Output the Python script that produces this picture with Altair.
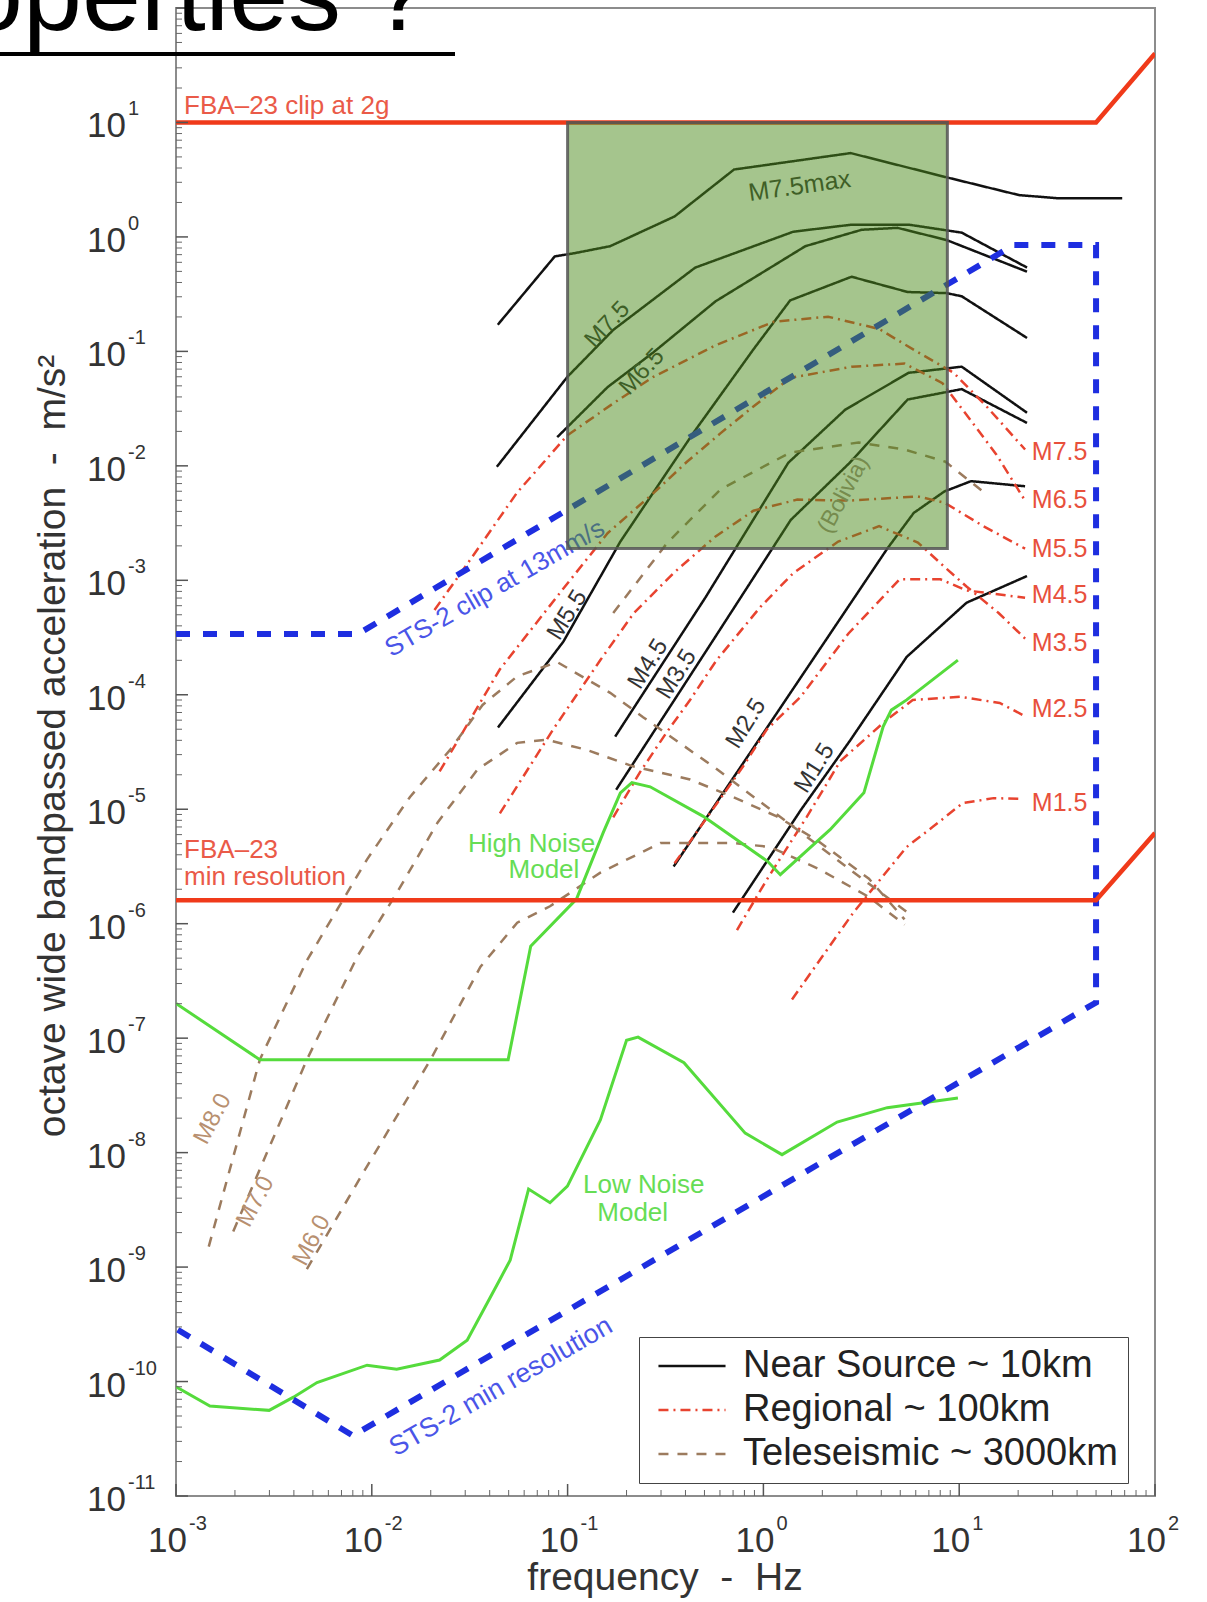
import altair as alt
import pandas as pd

FONT = "Liberation Sans"
W, H = 979, 1488

# ---------------- axis structure ----------------
x_decades = [1e-3, 1e-2, 1e-1, 1e0, 1e1, 1e2]
x_exps = ["-3", "-2", "-1", "0", "1", "2"]
y_decades = [1e2, 1e1, 1e0, 1e-1, 1e-2, 1e-3, 1e-4, 1e-5, 1e-6, 1e-7, 1e-8, 1e-9, 1e-10, 1e-11]
y_label_vals = [1e1, 1e0, 1e-1, 1e-2, 1e-3, 1e-4, 1e-5, 1e-6, 1e-7, 1e-8, 1e-9, 1e-10, 1e-11]
y_exps = ["1", "0", "-1", "-2", "-3", "-4", "-5", "-6", "-7", "-8", "-9", "-10", "-11"]
x_minor = [k * 10.0 ** e for e in range(-3, 2) for k in range(2, 10)]
y_minor = [k * 10.0 ** e for e in range(-11, 2) for k in range(2, 10)]

# ---------------- instrument limits ----------------
fba_clip_f = [0.001, 50, 100]
fba_clip_a = [10, 10, 40]
fba_res_f = [0.001, 50, 100]
fba_res_a = [1.6e-6, 1.6e-6, 6.2e-6]

sts_f = [0.001, 0.0085, 19, 50, 50, 0.008, 0.001]
sts_a = [3.4e-4, 3.4e-4, 0.85, 0.85, 2.05e-7, 3.37e-11, 2.9e-10]

# ---------------- noise models ----------------
nhnm_f = [0.001, 0.00268, 0.0497, 0.0648, 0.111, 0.152, 0.186, 0.213, 0.264, 0.493,
          1.05, 1.22, 2.19, 3.26, 4.09, 4.50, 5.39, 9.85]
nhnm_a = [2.01e-7, 6.49e-8, 6.49e-8, 6.37e-7, 1.64e-6, 6.24e-6, 1.39e-5, 1.71e-5, 1.57e-5, 8.66e-6,
          3.51e-6, 2.68e-6, 6.62e-6, 1.39e-5, 5.28e-5, 7.34e-5, 9.02e-5, 2.01e-4]
nlnm_f = [0.001, 0.00149, 0.00299, 0.00398, 0.00525, 0.00946, 0.0134, 0.0222, 0.0307, 0.0451,
          0.0509, 0.0632, 0.0813, 0.0998, 0.147, 0.200, 0.229, 0.393, 0.807, 1.245, 2.38, 4.29, 9.85]
nlnm_a = [9.0e-11, 6.1e-11, 5.6e-11, 7.3e-11, 9.8e-11, 1.39e-10, 1.28e-10, 1.54e-10, 2.3e-10, 7.8e-10,
          1.15e-9, 4.8e-9, 3.65e-9, 5.1e-9, 1.93e-8, 9.6e-8, 1.02e-7, 6.1e-8, 1.48e-8, 9.6e-9,
          1.85e-8, 2.47e-8, 3.0e-8]

# ---------------- earthquake spectra ----------------
near_source = {
    "M7.5max": ([0.044, 0.086, 0.108, 0.165, 0.352, 0.708, 2.79, 8.3, 20.2, 31.5, 68],
                [0.171, 0.676, 0.72, 0.83, 1.51, 3.88, 5.4, 3.37, 2.32, 2.18, 2.18]),
    "M7.5": ([0.0435, 0.0998, 0.171, 0.448, 1.42, 2.82, 5.52, 10.3, 22.2],
             [0.0098, 0.060, 0.154, 0.539, 1.11, 1.28, 1.28, 1.09, 0.54]),
    "M6.5": ([0.0885, 0.160, 0.274, 0.570, 1.64, 3.18, 4.84, 8.61, 22.2],
             [0.0178, 0.0487, 0.098, 0.274, 0.831, 1.155, 1.20, 0.94, 0.497]),
    "M5.5": ([0.0441, 0.0951, 0.186, 0.438, 0.889, 1.37, 2.82, 5.46, 8.61, 10.3, 22.2],
             [5.18e-5, 2.91e-4, 2.18e-3, 0.0193, 0.104, 0.279, 0.449, 0.330, 0.323, 0.303, 0.131]),
    "M4.5": ([0.175, 0.505, 1.34, 2.62, 5.52, 10.3, 22.2],
             [4.31e-5, 7.05e-4, 0.01064, 0.031, 0.065, 0.0735, 0.0291]),
    "M3.5": ([0.177, 0.556, 1.38, 2.76, 5.46, 10.3, 22.2],
             [1.48e-5, 3.03e-4, 3.37e-3, 0.01064, 0.038, 0.0468, 0.0237]),
    "M2.5": ([0.348, 1.17, 4.29, 5.86, 8.41, 11.5, 21.7],
             [3.16e-6, 6.9e-5, 1.89e-3, 3.88e-3, 5.98e-3, 7.35e-3, 6.63e-3]),
    "M1.5": ([0.699, 1.55, 2.79, 5.39, 10.9, 22.2],
             [1.25e-6, 9.8e-6, 4.05e-5, 2.14e-4, 6.37e-4, 1.09e-3]),
}
regional = {
    "M7.5": ([0.0209, 0.0318, 0.0553, 0.0998, 0.171, 0.274, 0.570, 1.13, 2.14, 3.90, 5.93, 9.37, 13.8, 21.7],
             [5.5e-4, 1.51e-3, 5.86e-3, 0.0185, 0.0351, 0.0599, 0.113, 0.1815, 0.201, 0.157, 0.102, 0.065, 0.033, 0.0139]),
    "M6.5": ([0.0222, 0.0451, 0.0917, 0.160, 0.277, 0.407, 0.605, 0.889, 1.37, 2.82, 5.26, 8.21, 10.8, 15.5, 21.7],
             [2.14e-5, 1.67e-4, 7.82e-4, 2.58e-3, 5.86e-3, 0.01086, 0.0193, 0.033, 0.0586, 0.0735, 0.0782, 0.0528, 0.0285, 0.01253, 4.97e-3]),
    "M5.5": ([0.0451, 0.0843, 0.147, 0.218, 0.352, 0.570, 0.889, 1.49, 2.72, 6.15, 8.41, 13.3, 21.7],
             [9.2e-6, 4.97e-5, 2.01e-4, 5.18e-4, 1.18e-3, 2.42e-3, 4.05e-3, 5.07e-3, 4.97e-3, 5.4e-3, 4.77e-3, 2.97e-3, 1.89e-3]),
    "M4.5": ([0.171, 0.234, 0.320, 0.422, 0.577, 0.966, 1.42, 2.41, 3.90, 6.15, 8.41, 10.9, 15.9, 21.7],
             [8.5e-6, 2.1e-5, 4.68e-5, 9.0e-5, 2.01e-4, 5.86e-4, 1.155e-3, 2.18e-3, 2.97e-3, 2.14e-3, 1.31e-3, 8.83e-4, 5.18e-4, 3.1e-4]),
    "M3.5": ([0.352, 0.788, 1.04, 1.55, 2.72, 4.96, 8.02, 10.9, 21.7],
             [3.37e-6, 2.37e-5, 4.97e-5, 9.6e-5, 3.43e-4, 1.02e-3, 1.02e-3, 8.15e-4, 7.05e-4]),
    "M2.5": ([0.733, 1.04, 1.66, 2.47, 4.29, 5.79, 10.07, 16.1, 21.7],
             [8.8e-7, 2.42e-6, 8.5e-6, 2.63e-5, 6.1e-5, 9.0e-5, 9.6e-5, 8.49e-5, 6.5e-5]),
    "M1.5": ([1.40, 2.88, 5.39, 7.36, 10.4, 15.0, 20.7],
             [2.18e-7, 1.25e-6, 4.68e-6, 7.05e-6, 1.13e-5, 1.25e-5, 1.23e-5]),
}
teleseismic = {
    "M8.0": ([0.00147, 0.00268, 0.00466, 0.00946, 0.01567, 0.0251, 0.0368, 0.0553, 0.0885, 0.165, 0.243, 0.570, 1.49, 3.46, 5.46],
             [1.51e-9, 6.49e-8, 4.77e-7, 3.65e-6, 1.28e-5, 3.3e-5, 8.15e-5, 1.45e-4, 1.93e-4, 1.04e-4, 6.37e-5, 2.28e-5, 6.62e-6, 2.23e-6, 1.25e-6]),
    "M7.0": ([0.00196, 0.00466, 0.00849, 0.0134, 0.0217, 0.0347, 0.0553, 0.0785, 0.125, 0.216, 0.422, 0.699, 1.17, 1.87, 3.46, 5.26],
             [2.05e-9, 6.49e-8, 5.28e-7, 1.85e-6, 7.66e-6, 2.23e-5, 3.8e-5, 4.05e-5, 3.3e-5, 2.37e-5, 1.82e-5, 1.28e-5, 8.66e-6, 5.4e-6, 2.47e-6, 1.09e-6]),
    "M6.0": ([0.00466, 0.00902, 0.01995, 0.0359, 0.0553, 0.0813, 0.147, 0.298, 0.699, 1.08, 1.90, 3.46, 5.26],
             [9.6e-10, 6.63e-9, 6.49e-8, 4.21e-7, 1.02e-6, 1.42e-6, 2.79e-6, 5.07e-6, 5.07e-6, 4.68e-6, 3.03e-6, 1.71e-6, 9.8e-7]),
    "Bolivia": ([0.171, 0.324, 0.605, 1.37, 3.06, 5.26, 8.51, 13.0],
                [5.18e-4, 2.14e-3, 6.24e-3, 0.01306, 0.016, 0.0139, 0.01086, 6.1e-3]),
}
types = ["Near Source ~ 10km", "Regional ~ 100km", "Teleseismic ~ 3000km"]

# highlighted band
box_f1, box_f2 = [0.1], [8.7]
box_a1, box_a2 = [1.9e-3], [10.0]

# ---------------- labels ----------------
ns_max_text, ns_max_f, ns_max_a = ["M7.5max"], [1.53], [2.79]
ns_hi_text, ns_hi_f, ns_hi_a = ["M7.5", "M6.5"], [0.160, 0.240], [0.171, 0.0662]
ns_lo_text = ["M5.5", "M4.5", "M3.5", "M2.5", "M1.5"]
ns_lo_f = [0.0998, 0.258, 0.361, 0.817, 1.83]
ns_lo_a = [4.97e-4, 1.85e-4, 1.51e-4, 5.6e-5, 2.28e-5]
reg_text = ["M7.5", "M6.5", "M5.5", "M4.5", "M3.5", "M2.5", "M1.5"]
reg_f = [23.5] * 7
reg_a = [0.0131, 5.07e-3, 1.89e-3, 7.5e-4, 2.85e-4, 7.5e-5, 1.13e-5]
tel_text, tel_f, tel_a = ["M8.0", "M7.0", "M6.0"], [0.00154, 0.00255, 0.00494], [1.97e-8, 3.73e-9, 1.71e-9]
bol_text, bol_f, bol_a = ["(Bolivia)"], [2.56], [5.6e-3]
fba_text = ["FBA\u201323 clip at 2g", "FBA\u201323", "min resolution"]
fba_f, fba_a = [0.0011, 0.0011, 0.0011], [13.9, 4.4e-6, 2.58e-6]
sts_text, sts_tf, sts_ta = ["STS-2 clip at 13mm/s", "STS-2 min resolution"], [0.0425, 0.0457], [8.5e-4, 9.0e-11]
noise_text = ["High Noise", "Model", "Low Noise", "Model"]
noise_tf = [0.0655, 0.0757, 0.245, 0.215]
noise_ta = [4.97e-6, 2.97e-6, 5.18e-9, 2.97e-9]

# ---------------- build tables ----------------
def rows(group, name, fs, as_):
    return [{"type": group, "curve": group + "|" + name, "f": f, "a": a, "i": i}
            for i, (f, a) in enumerate(zip(fs, as_))]

fam = []
for name, (fs, as_) in near_source.items():
    fam += rows(types[0], name, fs, as_)
for name, (fs, as_) in regional.items():
    fam += rows(types[1], name, fs, as_)
for name, (fs, as_) in teleseismic.items():
    fam += rows(types[2], name, fs, as_)
fam_df = pd.DataFrame(fam)

noise_df = pd.DataFrame(rows("n", "NHNM", nhnm_f, nhnm_a) + rows("n", "NLNM", nlnm_f, nlnm_a))
fba_df = pd.DataFrame(rows("fba", "clip", fba_clip_f, fba_clip_a) + rows("fba", "res", fba_res_f, fba_res_a))
sts_df = pd.DataFrame(rows("sts", "path", sts_f, sts_a))

xs = alt.Scale(type="log", domain=[1e-3, 1e2], nice=False)
ys = alt.Scale(type="log", domain=[1e-11, 1e2], nice=False)

def X(field="f"):
    return alt.X(field + ":Q", scale=xs, axis=None)

def Y(field="a"):
    return alt.Y(field + ":Q", scale=ys, axis=None)

legend_kw = dict(orient="none", legendX=463, legendY=1329, title=None,
                 labelFont=FONT, labelFontSize=38, labelColor="#222", labelLimit=600,
                 symbolType="stroke", symbolSize=4500, symbolStrokeWidth=2.5,
                 clipHeight=38, padding=10, rowPadding=6, symbolOffset=8, labelOffset=16,
                 fillColor="white", strokeColor="#444")

family = alt.Chart(fam_df).mark_line(strokeWidth=2.5, clip=True).encode(
    x=alt.X("f:Q", scale=xs, axis=alt.Axis(values=x_decades, grid=True, gridColor="#e8e8e8",
                                           ticks=False, labels=False, domain=False, title=None)),
    y=alt.Y("a:Q", scale=ys, axis=alt.Axis(values=y_decades, grid=True, gridColor="#e8e8e8",
                                           ticks=False, labels=False, domain=False, title=None)),
    color=alt.Color("type:N", scale=alt.Scale(domain=types, range=["#111111", "#e8432f", "#9c7b5e"]),
                    legend=alt.Legend(**legend_kw)),
    strokeDash=alt.StrokeDash("type:N", scale=alt.Scale(domain=types, range=[[1, 0], [10, 5, 2, 5], [10, 9]]),
                              legend=alt.Legend(**legend_kw)),
    detail="curve:N",
    order="i:Q",
)

noise = alt.Chart(noise_df).mark_line(color="#55db3c", strokeWidth=3, clip=True).encode(
    x=X(), y=Y(), detail="curve:N", order="i:Q")
sts = alt.Chart(sts_df).mark_line(color="#1e2ee0", strokeWidth=6, strokeDash=[14, 13], clip=True).encode(
    x=X(), y=Y(), order="i:Q")
fba = alt.Chart(fba_df).mark_line(color="#f03a1a", strokeWidth=4.5, clip=True).encode(
    x=X(), y=Y(), detail="curve:N", order="i:Q")

# tick marks (inward)
ytk = alt.Chart(pd.DataFrame({"v": y_decades})).mark_rule(color="#555", strokeWidth=1.5).encode(
    y=Y("v"), x=alt.value(0), x2=alt.value(12))
ytm = alt.Chart(pd.DataFrame({"v": y_minor})).mark_rule(color="#666", strokeWidth=1).encode(
    y=Y("v"), x=alt.value(0), x2=alt.value(6))
xtk = alt.Chart(pd.DataFrame({"v": x_decades})).mark_rule(color="#555", strokeWidth=1.5).encode(
    x=X("v"), y=alt.value(H), y2=alt.value(H - 12))
xtm = alt.Chart(pd.DataFrame({"v": x_minor})).mark_rule(color="#666", strokeWidth=1).encode(
    x=X("v"), y=alt.value(H), y2=alt.value(H - 6))

# tick labels
ylab_df = pd.DataFrame({"v": y_label_vals, "exp": y_exps})
ylab10 = alt.Chart(ylab_df).mark_text(text="10", align="right", baseline="alphabetic", font=FONT,
                                      fontSize=35, color="#333", dy=15).encode(x=alt.value(-50), y=Y("v"))
ylabe = alt.Chart(ylab_df).mark_text(align="left", baseline="alphabetic", font=FONT,
                                     fontSize=20, color="#333", dy=-7).encode(x=alt.value(-48), y=Y("v"), text="exp:N")
xlab_df = pd.DataFrame({"v": x_decades, "exp": x_exps})
xlab10 = alt.Chart(xlab_df).mark_text(text="10", align="right", baseline="alphabetic", font=FONT,
                                      fontSize=35, color="#333", dx=11).encode(x=X("v"), y=alt.value(H + 56))
xlabe = alt.Chart(xlab_df).mark_text(align="left", baseline="alphabetic", font=FONT,
                                     fontSize=20, color="#333", dx=13).encode(x=X("v"), y=alt.value(H + 34), text="exp:N")

ytitle = alt.Chart(pd.DataFrame({"t": ["octave wide bandpassed acceleration\u00a0\u00a0-\u00a0\u00a0m/s\u00b2"]})).mark_text(
    angle=270, align="center", baseline="middle", font=FONT, fontSize=39, color="#333").encode(
    x=alt.value(-123), y=alt.value(738), text="t:N")
xtitle = alt.Chart(pd.DataFrame({"t": ["frequency\u00a0\u00a0-\u00a0\u00a0Hz"]})).mark_text(
    align="center", baseline="alphabetic", font=FONT, fontSize=39, color="#333").encode(
    x=alt.value(489), y=alt.value(1582), text="t:N")

def labels(texts, fs, as_, **kw):
    df = pd.DataFrame({"t": texts, "f": fs, "a": as_})
    return alt.Chart(df).mark_text(font=FONT, **kw).encode(x=X(), y=Y(), text="t:N")

lab_layers = [
    labels(ns_max_text, ns_max_f, ns_max_a, angle=352, fontSize=25, color="#333"),
    labels(ns_hi_text, ns_hi_f, ns_hi_a, angle=313, fontSize=24, color="#333"),
    labels(ns_lo_text, ns_lo_f, ns_lo_a, angle=302, fontSize=24, color="#333"),
    labels(reg_text, reg_f, reg_a, align="left", baseline="middle", fontSize=25, color="#e8503c"),
    labels(tel_text, tel_f, tel_a, angle=298, fontSize=24, color="#b89070"),
    labels(bol_text, bol_f, bol_a, angle=298, fontSize=23, color="#a08a80"),
    labels(fba_text, fba_f, fba_a, align="left", baseline="middle", fontSize=26, color="#ea5a48"),
    labels(sts_text[:1], sts_tf[:1], sts_ta[:1], angle=330, fontSize=26, color="#4a55e8"),
    labels(sts_text[1:], sts_tf[1:], sts_ta[1:], angle=330, fontSize=27, color="#4a55e8"),
    labels(noise_text, noise_tf, noise_ta, baseline="middle", fontSize=26, color="#66dd55"),
]

box = alt.Chart(pd.DataFrame({"f1": box_f1, "f2": box_f2, "a1": box_a1, "a2": box_a2})).mark_rect(
    fill="#4c8c1c", fillOpacity=0.5, stroke="#555555", strokeOpacity=0.85, strokeWidth=3).encode(
    x=X("f1"), x2="f2:Q", y=Y("a1"), y2="a2:Q")

slide_title = alt.Chart(pd.DataFrame({"t": ["Properties ?"]})).mark_text(
    align="left", baseline="alphabetic", font=FONT, fontSize=106, color="black").encode(
    x=alt.value(-318), y=alt.value(22), text="t:N")
underline = alt.Chart(pd.DataFrame({"t": ["u"]})).mark_rule(color="black", strokeWidth=4).encode(
    x=alt.value(-176), x2=alt.value(279), y=alt.value(46))

chart = alt.layer(
    family, noise, sts, fba, ytk, ytm, xtk, xtm, *lab_layers, box,
    ylab10, ylabe, xlab10, xlabe, ytitle, xtitle, slide_title, underline,
).properties(
    width=W, height=H,
    padding={"left": 176, "top": 8, "right": 52, "bottom": 106},
    autosize=alt.AutoSizeParams(type="none"),
    background="white",
).configure_view(stroke="#8c8c8c", strokeWidth=2)

chart.save("out.html", embed_options={"renderer": "svg", "actions": False})
